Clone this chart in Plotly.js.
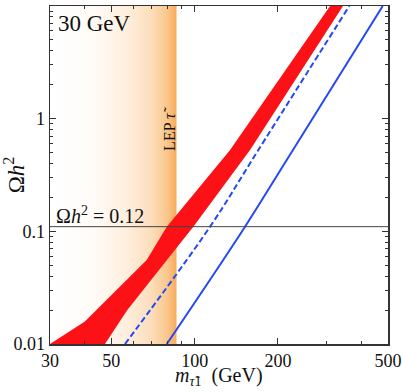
<!DOCTYPE html>
<html>
<head>
<meta charset="utf-8">
<script src="https://cdn.plot.ly/plotly-3.0.1.min.js"></script>
<style>
  html, body { margin: 0; padding: 0; background: #fff; }
  #chart { width: 402px; height: 392px; }
</style>
</head>
<body>
<div id="chart"></div>
<script>
// red band: upper-left edge and lower-right edge (m in GeV, Omega h^2)
var bandUpperX = [30, 40.1, 67.1, 79.3, 134.3, 308.7];
var bandUpperY = [0.01, 0.0158, 0.0557, 0.110, 0.527, 10];
var bandLowerX = [47.4, 57.1, 98.9, 158.6, 343.8];
var bandLowerY = [0.01, 0.0200, 0.110, 0.527, 10];

// blue dashed line
var dashX = [56.0, 113.7, 169.9, 362.4];
var dashY = [0.01, 0.110, 0.527, 10];

// blue solid line
var solidX = [79.3, 152.1, 215.2, 478.6];
var solidY = [0.01, 0.110, 0.43, 10];

// LEP stau bound and relic line
var lepX = [30, 86];
var relicY = 0.11;

var xTicks = [30, 50, 100, 200, 500];
var xTickText = ['30', '50', '100', '200', '500'];
var yTicks = [0.01, 0.1, 1, 10];
var yTickText = ['0.01', '0.1', '1', '10'];

var serif = '"Liberation Serif", "Times New Roman", Times, serif';

var lepTrace = {
    x: [lepX[0], lepX[1], lepX[1], lepX[0], lepX[0]],
    y: [0.01, 0.01, 10, 10, 0.01],
    mode: 'lines',
    line: { width: 0 },
    fill: 'toself',
    fillcolor: 'rgba(250,190,120,0.5)',
    fillgradient: {
        type: 'horizontal',
        colorscale: [
            [0, 'rgb(255,255,255)'],
            [0.35, 'rgb(255,251,247)'],
            [0.6, 'rgb(254,239,222)'],
            [0.8, 'rgb(252,222,188)'],
            [0.92, 'rgb(250,200,142)'],
            [1, 'rgb(248,170,90)']
        ]
    },
    hoverinfo: 'skip'
};

var bandTrace = {
    x: bandUpperX.concat(bandLowerX.slice().reverse()),
    y: bandUpperY.concat(bandLowerY.slice().reverse()),
    mode: 'lines',
    line: { width: 0 },
    fill: 'toself',
    fillcolor: 'rgb(252,18,22)'
};

var dashTrace = {
    x: dashX, y: dashY,
    mode: 'lines',
    line: { color: 'rgb(38,72,245)', width: 2, dash: '6px,3px', shape: 'spline' }
};

var solidTrace = {
    x: solidX, y: solidY,
    mode: 'lines',
    line: { color: 'rgb(38,72,245)', width: 2, shape: 'spline' }
};

var relicTrace = {
    x: [xTicks[0], xTicks[xTicks.length - 1]],
    y: [relicY, relicY],
    mode: 'lines',
    line: { color: '#444', width: 1 }
};

var axisCommon = {
    type: 'log',
    showgrid: false,
    zeroline: false,
    showline: true,
    linecolor: '#333',
    linewidth: 1.5,
    mirror: 'allticks',
    ticks: 'inside',
    ticklen: 6,
    tickcolor: '#333',
    tickfont: { family: serif, size: 18, color: '#111' },
    tickmode: 'array'
};

var layout = {
    width: 402,
    height: 392,
    margin: { l: 50, r: 14, t: 6, b: 48 },
    paper_bgcolor: '#fff',
    plot_bgcolor: '#fff',
    showlegend: false,
    font: { family: serif, color: '#111' },
    xaxis: Object.assign({}, axisCommon, {
        range: [Math.log10(30), Math.log10(500)],
        tickvals: xTicks,
        ticktext: xTickText,
        minor: { ticks: 'inside', ticklen: 3, tickcolor: '#333',
                 tickvals: [40, 60, 70, 80, 90, 300, 400] }
    }),
    yaxis: Object.assign({}, axisCommon, {
        range: [-2, 1],
        tickvals: yTicks,
        ticktext: yTickText,
        minor: { ticks: 'inside', ticklen: 3, tickcolor: '#333',
                 tickvals: [0.02, 0.03, 0.04, 0.05, 0.06, 0.07, 0.08, 0.09,
                            0.2, 0.3, 0.4, 0.5, 0.6, 0.7, 0.8, 0.9,
                            2, 3, 4, 5, 6, 7, 8, 9] },
        title: { text: 'Ω<i>h</i><sup>2</sup>', font: { family: serif, size: 23 }, standoff: 4 }
    }),
    annotations: [
        {
            // x axis title
            x: 0.5, y: -0.097, xref: 'paper', yref: 'paper',
            xanchor: 'center', yanchor: 'middle',
            text: '<i>m</i><sub><i>τ̃</i>1</sub>  (GeV)', showarrow: false,
            font: { family: serif, size: 20, color: '#111' }
        },
        {
            x: Math.log10(30), y: 1, xref: 'x', yref: 'y',
            xanchor: 'left', yanchor: 'top', xshift: 6, yshift: -3,
            text: '30 GeV', showarrow: false,
            font: { family: serif, size: 23, color: '#111' }
        },
        {
            x: Math.log10(81.5), y: -0.09, xref: 'x', yref: 'y',
            text: 'LEP <i>τ̃</i>', textangle: -90, showarrow: false,
            font: { family: serif, size: 16, color: '#111' }
        },
        {
            x: Math.log10(30), y: Math.log10(relicY), xref: 'x', yref: 'y',
            xanchor: 'left', yanchor: 'bottom', xshift: 4, yshift: -2,
            text: 'Ω<i>h</i><sup>2</sup> = 0.12', showarrow: false,
            font: { family: serif, size: 20, color: '#111' }
        }
    ]
};

Plotly.newPlot('chart', [lepTrace, bandTrace, dashTrace, solidTrace, relicTrace], layout,
    { staticPlot: true, displayModeBar: false });
</script>
</body>
</html>
